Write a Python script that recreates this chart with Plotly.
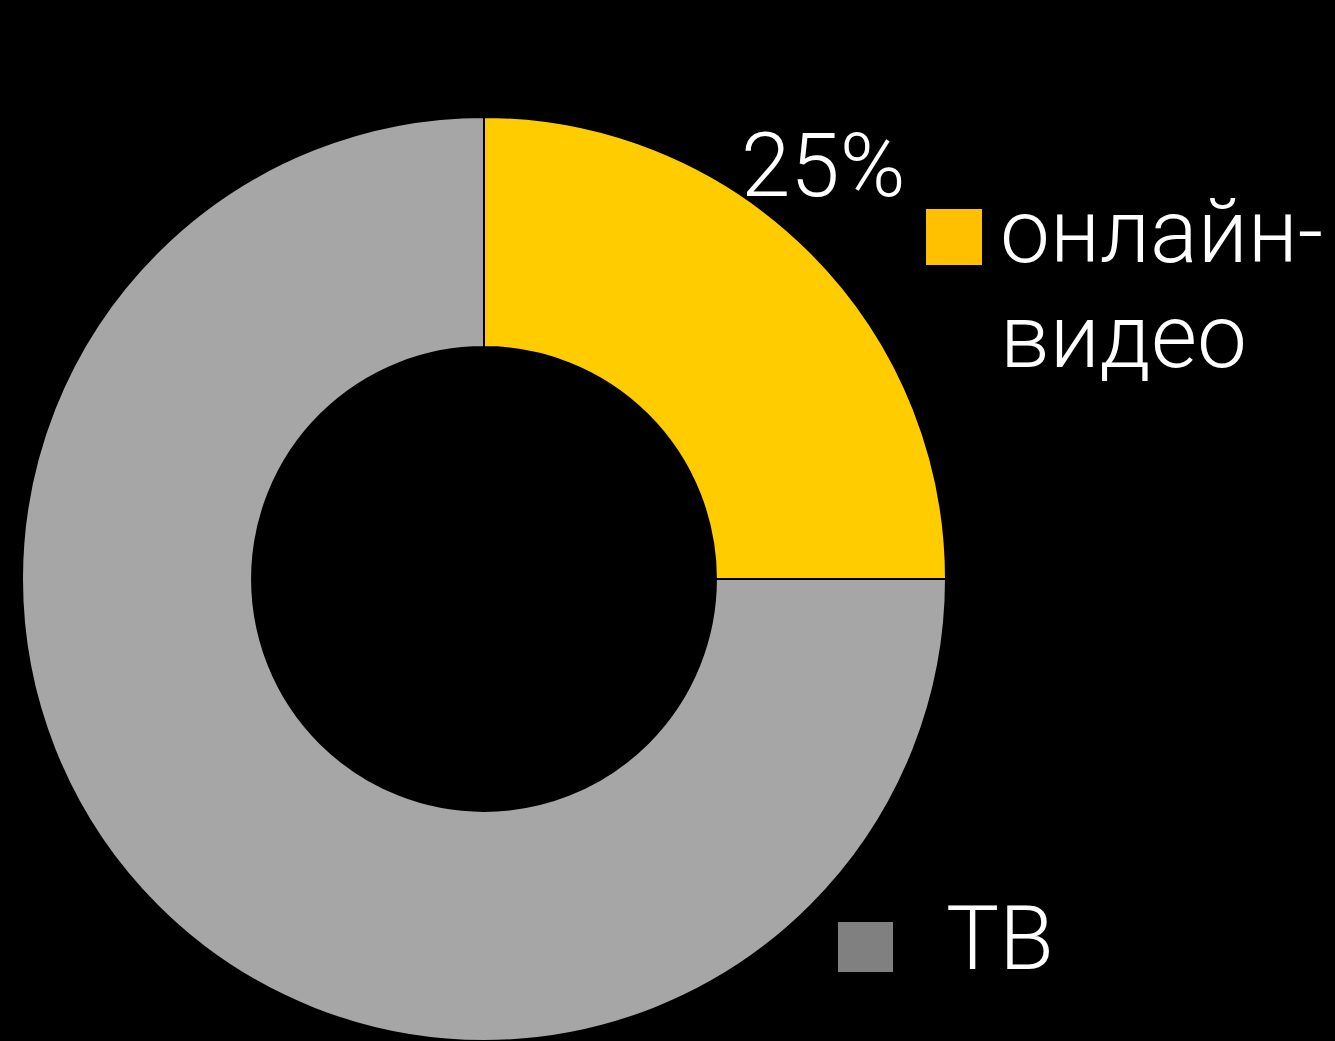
import plotly.graph_objects as go

categories = ["онлайн-видео", "ТВ"]
shares = [25, 75]
slice_colors = ["#FFCC00", "#A6A6A6"]
legend_colors = ["#FFC000", "#808080"]

W, H = 1335, 1041
FONT = "Roboto"
FS = 89

def px(x):
    return x / W

def py(y):
    return 1 - y / H

cx, r = 484, 462
bottom = H
fig = go.Figure(go.Pie(
    labels=categories,
    values=shares,
    hole=0.502,
    sort=False,
    direction="clockwise",
    rotation=0,
    marker=dict(colors=slice_colors, line=dict(color="#000000", width=2)),
    textinfo="none",
    hoverinfo="label+percent",
    showlegend=False,
    domain=dict(x=[px(cx - r), px(cx + r)], y=[py(bottom), py(bottom - 2 * r)]),
))

total = sum(shares)
pct_label = f"{round(100 * shares[0] / total)}%"

def font():
    return dict(size=FS, color="white", family=FONT, weight=300)

anns = [
    dict(text=pct_label, x=px(823), y=py(165), xanchor="center", yanchor="middle", font=font()),
    dict(text="онлайн-", x=px(998), y=py(231), xanchor="left", yanchor="middle", font=font()),
    dict(text="видео", x=px(998), y=py(336), xanchor="left", yanchor="middle", font=font()),
    dict(text=categories[1], x=px(944), y=py(938), xanchor="left", yanchor="middle", font=font()),
]
for a in anns:
    a.update(xref="paper", yref="paper", showarrow=False)

shapes = [
    dict(type="rect", xref="paper", yref="paper",
         x0=px(926), x1=px(982), y0=py(265), y1=py(209),
         fillcolor=legend_colors[0], line=dict(width=0)),
    dict(type="rect", xref="paper", yref="paper",
         x0=px(838), x1=px(893), y0=py(972), y1=py(922),
         fillcolor=legend_colors[1], line=dict(width=0)),
]

fig.update_layout(
    width=W, height=H,
    margin=dict(l=0, r=0, t=0, b=0),
    paper_bgcolor="#000000",
    plot_bgcolor="#000000",
    annotations=anns,
    shapes=shapes,
)

fig.write_html(
    "out.html",
    config={"displayModeBar": False},
    post_script="document.body.style.margin='0';document.body.style.overflow='hidden';document.body.style.background='#000';",
)
